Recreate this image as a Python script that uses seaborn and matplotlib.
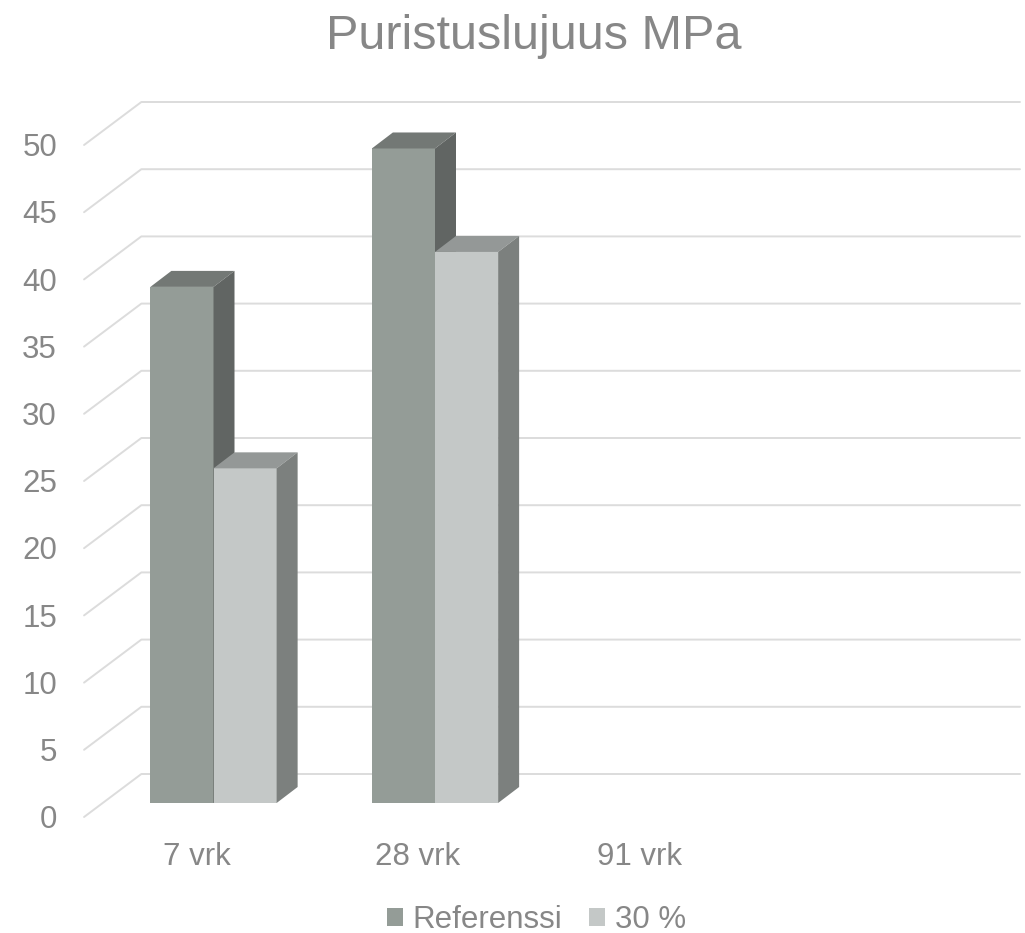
import numpy as np
import pandas as pd
import matplotlib
matplotlib.use("Agg")
import matplotlib.pyplot as plt
import seaborn as sns
from matplotlib.patches import Polygon, Patch
from matplotlib.lines import Line2D
from matplotlib.transforms import IdentityTransform
from matplotlib.colors import to_rgb

# ---------------- data ----------------
title = "Puristuslujuus MPa"
categories = ["7 vrk", "28 vrk", "91 vrk"]
series = ["Referenssi", "30 %"]
referenssi = [38.4, 48.7, np.nan]
p30 = [24.9, 41.0, np.nan]
yticks = [0, 5, 10, 15, 20, 25, 30, 35, 40, 45, 50]

# ---------------- style ----------------
front_colors = ["#949C97", "#C4C8C7"]
top_colors = ["#737875", "#949897"]
side_colors = ["#616563", "#7C807E"]
text_color = "#878787"
grid_color = "#DCDCDC"
FS = 22.5

W, H, DPI = 1025, 933, 100
sns.set_theme(style="white")
plt.rcParams["font.family"] = ["Liberation Sans", "DejaVu Sans"]

fig = plt.figure(figsize=(W / DPI, H / DPI), dpi=DPI)
fig.patch.set_facecolor("white")

# axes = front plane of the bars
x0px, x1px = 102.75, 988.75      # category -0.5 .. 3.5
yb, yt = 803, 131                # value 0 .. 50 (pixels from top)
ax = fig.add_axes([x0px / W, (H - yb) / H, (x1px - x0px) / W, (yb - yt) / H])

df = pd.DataFrame({
    "Ikä": categories * 2,
    "Sarja": [s for s in series for _ in categories],
    "MPa": referenssi + p30,
})
sns.barplot(data=df, x="Ikä", y="MPa", hue="Sarja", order=categories,
            hue_order=series, palette=front_colors, width=0.57, gap=0,
            saturation=1, errorbar=None, linewidth=0, legend=False, ax=ax)

ax.set_xlim(-0.5, 3.5)
ax.set_ylim(0, 50)
ax.set_autoscale_on(False)
ax.axis("off")

# depth geometry (display pixels, y up)
DX, DY = 21, 16            # bar depth
BACK = (38.6, 29.0)        # bar plane -> back wall
FRONT = (-18.7, -14.0)     # bar plane -> front floor edge
RIGHT_END = 1020

ident = IdentityTransform()

# gridlines on back wall + floor diagonals
for v in yticks:
    px, py = ax.transData.transform((-0.5, v))
    bx, by = px + BACK[0], py + BACK[1]
    fx, fy = px + FRONT[0], py + FRONT[1]
    ax.add_line(Line2D([fx, bx, RIGHT_END], [fy, by, by], transform=ident,
                       color=grid_color, lw=1.4, zorder=0.5, clip_on=False))
    ax.text(57, fy - 11.2, str(v), transform=ident, ha="right", va="baseline",
            fontsize=FS, color=text_color)

# category labels
for i, c in enumerate(categories):
    cx, cy = ax.transData.transform((i, 0))
    ax.text(cx - 17, H - 865, c, transform=ident, ha="center", va="baseline",
            fontsize=FS, color=text_color)

# 3D faces on bars
bars = sorted([p for p in ax.patches if p.get_height() == p.get_height() and p.get_height() > 0],
              key=lambda p: p.get_x())
for i, p in enumerate(bars):
    k = 0 if np.allclose(p.get_facecolor()[:3], to_rgb(front_colors[0]), atol=0.02) else 1
    x, w, h = p.get_x(), p.get_width(), p.get_height()
    (xl, y0), (xr, y1) = ax.transData.transform([(x, 0), (x + w, h)])
    p.set_zorder(3 + 2 * i)
    p.set_clip_on(False)
    top = Polygon([(xl, y1), (xr, y1), (xr + DX, y1 + DY), (xl + DX, y1 + DY)],
                  closed=True, transform=ident, facecolor=top_colors[k],
                  edgecolor="none", zorder=4 + 2 * i, clip_on=False)
    side = Polygon([(xr, y0), (xr + DX, y0 + DY), (xr + DX, y1 + DY), (xr, y1)],
                   closed=True, transform=ident, facecolor=side_colors[k],
                   edgecolor="none", zorder=4 + 2 * i, clip_on=False)
    ax.add_patch(top)
    ax.add_patch(side)

ax.set_xlim(-0.5, 3.5)
ax.set_ylim(0, 50)

# title
fig.text(534 / W, 1 - 49 / H, title, ha="center", va="baseline",
         fontsize=35, color=text_color)

# legend
handles = [Patch(facecolor=front_colors[k], edgecolor="none", label=series[k]) for k in range(2)]
leg = fig.legend(handles=handles, loc="center", bbox_to_anchor=(536.5 / W, 1 - 920 / H),
                 ncol=2, frameon=False, fontsize=FS, handlelength=0.5, handleheight=0.5,
                 handletextpad=0.32, columnspacing=0.86, borderpad=0, borderaxespad=0)
for t in leg.get_texts():
    t.set_color(text_color)

fig.savefig("out.png", dpi=DPI, facecolor="white")
